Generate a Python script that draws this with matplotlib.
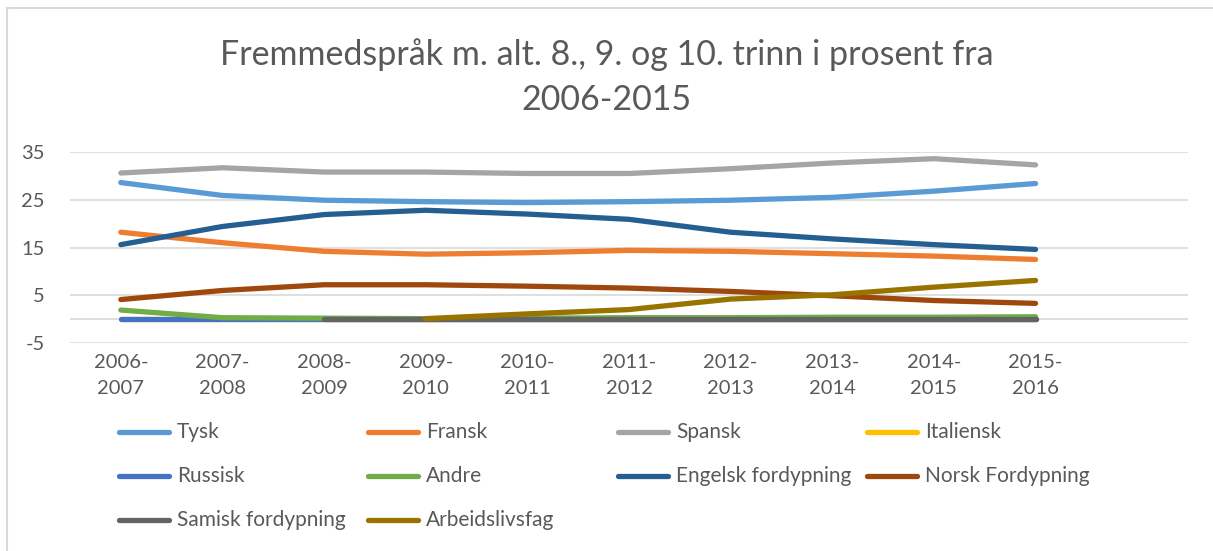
import matplotlib
matplotlib.use("Agg")
import matplotlib.pyplot as plt
from matplotlib.lines import Line2D
from matplotlib.patches import Rectangle
import numpy as np

plt.rcParams["font.family"] = ["Lato", "DejaVu Sans"]
plt.rcParams["axes.unicode_minus"] = False

years = ["2006-\n2007", "2007-\n2008", "2008-\n2009", "2009-\n2010", "2010-\n2011",
         "2011-\n2012", "2012-\n2013", "2013-\n2014", "2014-\n2015", "2015-\n2016"]

tysk = [28.6, 25.9, 24.9, 24.6, 24.4, 24.6, 24.9, 25.5, 26.8, 28.4]
fransk = [18.2, 16.0, 14.2, 13.6, 13.9, 14.4, 14.2, 13.7, 13.2, 12.5]
spansk = [30.6, 31.7, 30.8, 30.8, 30.5, 30.5, 31.5, 32.7, 33.6, 32.3]
italiensk = [0.0, 0.0, 0.0, 0.0, 0.0, 0.0, 0.0, 0.0, 0.0, 0.0]
russisk = [0.0, 0.0, 0.0, 0.0, 0.0, 0.0, 0.0, 0.0, 0.0, 0.0]
andre = [1.9, 0.3, 0.2, 0.1, 0.2, 0.3, 0.3, 0.4, 0.4, 0.5]
engelsk = [15.6, 19.4, 21.9, 22.8, 22.0, 20.9, 18.2, 16.8, 15.6, 14.6]
norsk = [4.1, 6.0, 7.2, 7.2, 6.9, 6.5, 5.8, 4.9, 3.9, 3.3]
samisk = [None, None, 0.0, 0.0, 0.0, 0.0, 0.0, 0.0, 0.0, 0.0]
arbeid = [None, None, None, 0.1, 1.1, 2.0, 4.2, 5.1, 6.7, 8.1]

series = [
    ("Tysk", tysk, "#5B9BD5"),
    ("Fransk", fransk, "#ED7D31"),
    ("Spansk", spansk, "#A5A5A5"),
    ("Italiensk", italiensk, "#FFC000"),
    ("Russisk", russisk, "#4472C4"),
    ("Andre", andre, "#70AD47"),
    ("Engelsk fordypning", engelsk, "#255E91"),
    ("Norsk Fordypning", norsk, "#9E480E"),
    ("Samisk fordypning", samisk, "#636363"),
    ("Arbeidslivsfag", arbeid, "#997300"),
]

W, H = 1213, 551
fig = plt.figure(figsize=(W / 100, H / 100), dpi=100)
fig.patch.set_facecolor("white")

# chart border
fig.add_artist(Rectangle((7 / W, -0.01), 1.02, 1 - 8 / H + 0.01, transform=fig.transFigure,
                         fill=False, edgecolor="#D9D9D9", linewidth=1.5))

ax = fig.add_axes([70 / W, 1 - 343 / H, (1188 - 70) / W, (343 - 152) / H])
x = np.arange(len(years))
for name, vals, color in series:
    y = np.array([np.nan if v is None else v for v in vals], dtype=float)
    ax.plot(x, y, color=color, linewidth=3.8, solid_capstyle="round",
            solid_joinstyle="round", zorder=3)

ax.set_xlim(-0.5, 10.5)
ax.set_ylim(-5, 35)
ax.set_yticks([-5, 5, 15, 25, 35])
for yv in [-5, 0, 5, 15, 25, 35]:
    ax.axhline(yv, color="#D9D9D9", linewidth=1.2, zorder=1)
ax.set_xticks(x)
ax.set_xticklabels(years, linespacing=1.6)
ax.tick_params(axis="both", length=0, labelsize=14.5, colors="#595959")
ax.tick_params(axis="x", pad=8)
ax.tick_params(axis="y", pad=18)
for sp in ax.spines.values():
    sp.set_visible(False)

fig.text(0.5, 1 - 55 / H, "Fremmedspråk m. alt. 8., 9. og 10. trinn i prosent fra",
         ha="center", va="center", fontsize=24.5, color="#595959")
fig.text(0.5, 1 - 100 / H, "2006-2015",
         ha="center", va="center", fontsize=24.5, color="#595959")

# legend, laid out row by row like the original
col_x = [119, 368, 618, 867]
row_y = [432, 476, 520]
for i, (name, vals, color) in enumerate(series):
    cx = col_x[i % 4]
    ry = row_y[i // 4]
    fig.add_artist(Line2D([cx / W, (cx + 50) / W], [1 - ry / H, 1 - ry / H],
                          transform=fig.transFigure, color=color, linewidth=3.8,
                          solid_capstyle="round"))
    fig.text((cx + 58) / W, 1 - ry / H, name, ha="left", va="center",
             fontsize=15, color="#595959")

fig.savefig("out.png", dpi=100)
